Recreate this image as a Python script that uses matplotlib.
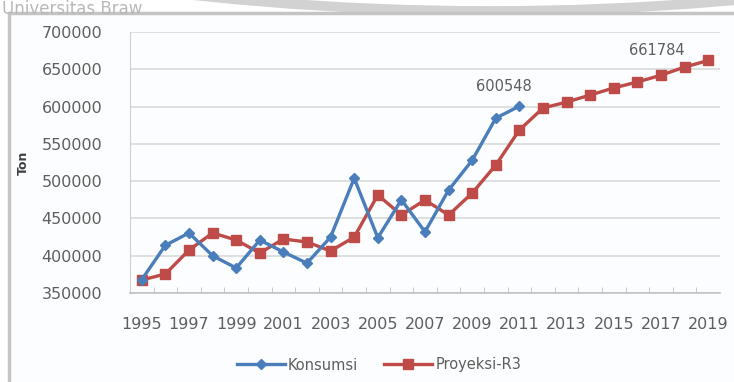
import matplotlib
matplotlib.use("Agg")
import matplotlib.pyplot as plt
from matplotlib.patches import Rectangle, Arc
from matplotlib.lines import Line2D

years = list(range(1995, 2020))
konsumsi = [368000, 414000, 430500, 400000, 383500, 421000, 405000, 390000,
            425000, 504000, 424000, 475000, 432000, 488000, 528000, 584500, 600548]
proyeksi = [367400, 375500, 407600, 430500, 421000, 403600, 422400, 418400,
            406300, 425000, 481400, 454600, 474700, 454600, 484000, 521600,
            568600, 598100, 606000, 615500, 625000, 633000, 642000, 653000, 661784]
tick_years = list(range(1995, 2020, 2))
y_ticks = [350000, 400000, 450000, 500000, 550000, 600000, 650000, 700000]

blue = "#4a7ebb"
red = "#be4b48"
txt = "#5e5e5e"

fig = plt.figure(figsize=(7.34, 3.82), dpi=100)
fig.patch.set_facecolor("white")

# background axes in pixel coordinates (y downward)
bg = fig.add_axes([0, 0, 1, 1], zorder=-5)
bg.set_xlim(0, 734)
bg.set_ylim(382, 0)
bg.axis("off")
bg.add_patch(Arc((490, -2600), 5400, 5222, theta1=70, theta2=110,
                 color="#d2d2d2", linewidth=7))
bg.add_patch(Rectangle((9, 13), 740, 380, facecolor="#fbfdfe",
                       edgecolor="#c4c4c4", linewidth=2.5))
bg.text(2, 0, "Universitas Braw", fontsize=12, color="#b8b8b8",
        ha="left", va="top")

ax = fig.add_axes([130/734, 1 - 293/382, 590/734, 261/382])
ax.set_facecolor("none")

xk = years[:len(konsumsi)]
ax.plot(xk, konsumsi, color=blue, linewidth=2.4, marker="D", markersize=5,
        markerfacecolor=blue, markeredgecolor=blue, label="Konsumsi", zorder=3)
ax.plot(years, proyeksi, color=red, linewidth=2.4, marker="s", markersize=7.5,
        markerfacecolor=red, markeredgecolor=red, label="Proyeksi-R3", zorder=2)

ax.annotate(f"{konsumsi[-1]}", (xk[-1], konsumsi[-1]), xytext=(-11, 9),
            textcoords="offset points", ha="center", va="bottom",
            fontsize=10.5, color=txt)
ax.annotate(f"{proyeksi[-1]}", (years[-1], proyeksi[-1]), xytext=(-37, 2),
            textcoords="offset points", ha="center", va="bottom",
            fontsize=10.5, color=txt)

ax.set_xlim(1994.5, 2019.5)
ax.set_ylim(350000, 700000)
ax.set_yticks(y_ticks)
ax.set_yticklabels([str(v) for v in y_ticks])
ax.set_xticks(tick_years)
ax.set_xticklabels([str(y) for y in tick_years])
ax.set_xticks([y + 0.5 for y in years[:-1]] + [1994.5], minor=True)
ax.grid(axis="y", color="#d9d9d9", linewidth=1.2)
ax.set_axisbelow(True)
for s in ["top", "right"]:
    ax.spines[s].set_visible(False)
ax.spines["left"].set_color("#d0d0d0")
ax.spines["bottom"].set_color("#c0c0c0")
ax.spines["bottom"].set_linewidth(1.2)
ax.tick_params(axis="y", length=0, pad=20, labelsize=11.5, labelcolor=txt)
ax.tick_params(axis="x", which="major", length=0, pad=17, labelsize=11.5, labelcolor=txt)
ax.tick_params(axis="x", which="minor", length=4, color="#c0c0c0", direction="in")
ax.set_ylabel("Ton", fontsize=9, color="#404040", fontweight="bold", labelpad=8)

handles = [Line2D([], [], color=blue, linewidth=2.4, marker="D", markersize=5),
           Line2D([], [], color=red, linewidth=2.4, marker="s", markersize=7.5)]
fig.legend(handles, ["Konsumsi", "Proyeksi-R3"], loc="center",
           bbox_to_anchor=(379/734, 1 - 365/382), ncol=2, frameon=False,
           fontsize=10.5, labelcolor=txt, handlelength=3.3, columnspacing=1.8,
           handletextpad=0.2)

fig.savefig("out.png", dpi=100)
